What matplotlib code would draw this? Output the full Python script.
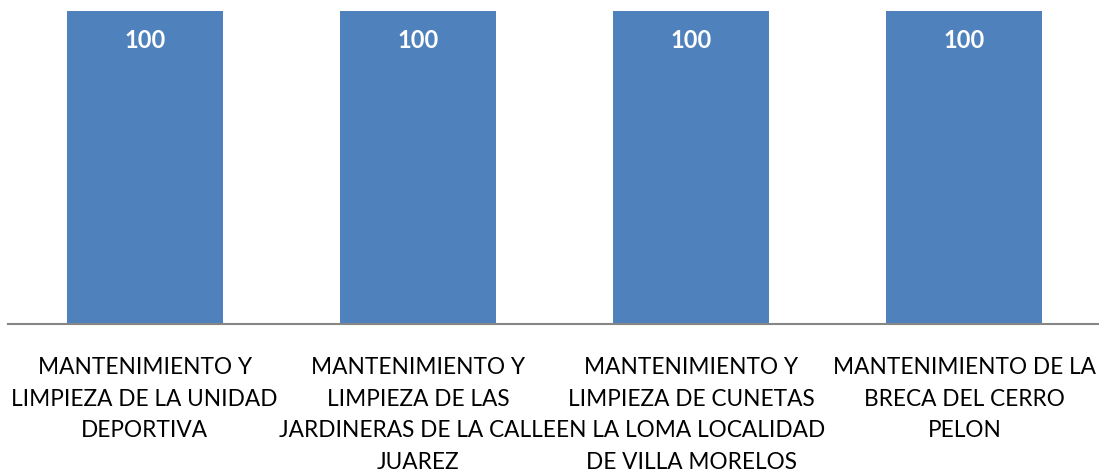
import matplotlib
matplotlib.use("Agg")
import matplotlib.pyplot as plt

# Chart data
categories = [
    "MANTENIMIENTO Y\nLIMPIEZA DE LA UNIDAD\nDEPORTIVA",
    "MANTENIMIENTO Y\nLIMPIEZA DE LAS\nJARDINERAS DE LA CALLE\nJUAREZ",
    "MANTENIMIENTO Y\nLIMPIEZA DE CUNETAS\nEN LA LOMA LOCALIDAD\nDE VILLA MORELOS",
    "MANTENIMIENTO DE LA\nBRECA DEL CERRO\nPELON",
]
values = [100, 100, 100, 100]

plt.rcParams['font.family'] = ['Lato', 'DejaVu Sans']

fig = plt.figure(figsize=(10.99, 4.76), dpi=100)
ax = fig.add_axes([8 / 1099, (476 - 324) / 476, 1093 / 1099, 313 / 476])

x = list(range(len(categories)))
bars = ax.bar(x, values, width=0.57, color="#4F81BD", zorder=2)

for xi, v in zip(x, values):
    ax.text(xi, v - 9.5, f"{v}", ha="center", va="center",
            color="white", fontsize=17, fontweight="bold")

ax.set_xlim(-0.5, len(categories) - 0.5)
ax.set_ylim(0, 100)
ax.set_yticks([])
ax.set_xticks(x)
ax.set_xticklabels(categories, fontsize=16.3, linespacing=1.62)
ax.tick_params(axis="x", length=0, pad=24)

for side in ["top", "right", "left"]:
    ax.spines[side].set_visible(False)
ax.spines["bottom"].set_color("#868686")
ax.spines["bottom"].set_linewidth(1.5)

fig.savefig("out.png", dpi=100)
